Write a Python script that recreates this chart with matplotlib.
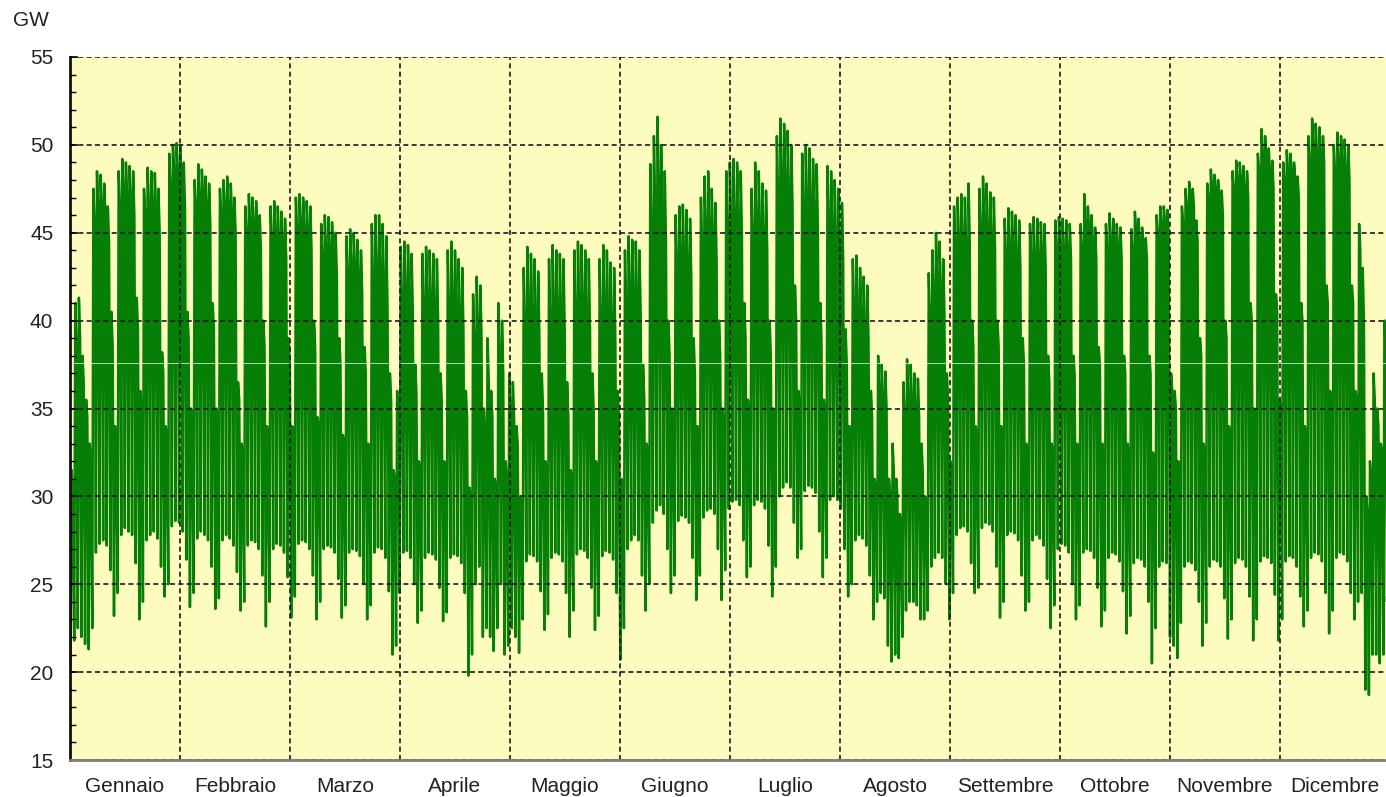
import numpy as np
import matplotlib.pyplot as plt
from matplotlib.ticker import MultipleLocator, FixedLocator, NullFormatter

plt.rcParams['font.family'] = ['Liberation Sans', 'DejaVu Sans']

mesi = ['Gennaio', 'Febbraio', 'Marzo', 'Aprile', 'Maggio', 'Giugno',
        'Luglio', 'Agosto', 'Settembre', 'Ottobre', 'Novembre', 'Dicembre']

# carico massimo giornaliero (GW), una riga per settimana lun..dom
picco = [
    31.5, 41.0, 41.3, 38.0, 35.5, 33.0,
    47.5, 48.5, 48.3, 47.8, 46.5, 40.5, 34.0,
    48.5, 49.2, 49.0, 48.8, 48.5, 41.3, 36.0,
    47.5, 48.7, 48.5, 48.4, 47.5, 38.2, 34.0,
    49.5, 50.0, 50.1, 50.0, 49.0, 40.5, 35.0,
    48.0, 48.9, 48.6, 48.2, 47.8, 41.0, 35.0,
    47.5, 48.0, 48.2, 47.8, 47.0, 36.5, 33.0,
    46.5, 47.2, 47.0, 46.8, 46.0, 40.0, 34.0,
    46.5, 46.8, 46.5, 46.2, 45.8, 39.0, 34.0,
    47.0, 47.2, 47.0, 46.8, 46.5, 40.0, 34.5,
    45.5, 46.0, 45.9, 45.6, 45.0, 39.0, 33.5,
    44.8, 45.2, 45.0, 44.6, 44.0, 38.5, 33.0,
    45.5, 46.0, 46.0, 45.5, 44.8, 37.0, 31.5,
    36.0, 44.2, 44.5, 44.3, 43.8, 37.5, 32.0,
    43.8, 44.2, 44.0, 43.8, 43.5, 37.0, 32.0,
    44.0, 44.5, 44.0, 43.5, 43.0, 36.0, 30.5,
    41.5, 42.5, 42.0, 35.0, 39.0, 36.0, 31.0,
    41.0, 40.0, 32.0, 37.0, 36.5, 34.0, 30.0,
    43.0, 44.2, 43.8, 43.5, 42.8, 37.0, 32.0,
    43.5, 44.3, 44.0, 43.8, 43.5, 36.5, 31.5,
    44.0, 44.5, 44.3, 44.0, 43.5, 37.0, 32.0,
    43.5, 44.3, 44.0, 43.3, 43.0, 36.0, 31.0,
    44.0, 44.8, 44.6, 44.5, 44.0, 37.5, 33.0,
    48.9, 50.5, 51.6, 50.0, 48.5, 40.0, 35.0,
    46.0, 46.5, 46.6, 46.3, 45.8, 39.0, 34.0,
    47.0, 48.2, 48.5, 47.5, 46.7, 40.0, 35.0,
    48.5, 49.0, 49.2, 49.0, 48.5, 41.0, 35.5,
    47.5, 49.0, 48.5, 47.8, 47.4, 40.0, 35.0,
    50.5, 51.5, 51.2, 50.8, 50.0, 42.0, 36.0,
    49.5, 50.0, 49.8, 49.2, 48.9, 41.0, 35.5,
    48.8, 48.5, 48.0, 47.5, 46.7, 39.5, 34.0,
    43.5, 43.7, 43.0, 42.5, 42.0, 36.0, 31.0,
    38.0, 37.5, 37.1, 31.0, 33.0, 31.0, 29.0,
    36.5, 37.8, 37.5, 37.0, 36.7, 33.0, 30.0,
    42.7, 44.0, 45.0, 44.5, 43.5, 37.0, 32.0,
    46.5, 47.0, 47.2, 47.0, 47.8, 40.0, 34.0,
    47.5, 48.2, 47.8, 47.3, 47.0, 40.0, 34.0,
    45.8, 46.4, 46.2, 46.0, 45.7, 39.0, 33.0,
    45.5, 45.9, 45.8, 45.6, 45.5, 38.0, 33.0,
    45.7, 45.9, 45.8, 45.7, 45.5, 38.0, 33.0,
    45.5, 47.2, 46.5, 46.0, 45.3, 38.5, 33.0,
    45.5, 46.1, 45.8, 45.5, 45.3, 38.0, 33.0,
    45.2, 46.2, 45.8, 45.3, 44.7, 38.0, 32.5,
    46.0, 46.5, 46.5, 46.3, 37.0, 36.0, 32.0,
    46.5, 47.5, 47.9, 47.5, 45.7, 39.0, 33.0,
    47.8, 48.6, 48.3, 48.0, 47.4, 40.0, 34.0,
    48.5, 49.1, 49.0, 48.8, 48.5, 41.0, 35.0,
    49.5, 50.9, 50.5, 49.8, 49.1, 41.5, 35.5,
    49.0, 49.7, 49.5, 49.0, 48.2, 41.0, 34.0,
    50.5, 51.5, 51.2, 51.0, 50.5, 42.0, 36.0,
    50.0, 50.7, 50.5, 50.3, 50.0, 42.0, 36.0,
    45.5, 43.0, 30.0, 32.0, 37.0, 35.0, 33.0,
    40.0, 43.0,
]

# carico serale (GW)
sera = [
    30.0, 38.5, 39.0, 36.5, 34.5, 32.0,
    45.5, 46.5, 46.5, 46.0, 44.5, 38.5, 33.5,
    46.5, 47.5, 47.0, 47.0, 46.0, 39.5, 35.0,
    46.0, 46.5, 46.5, 46.0, 45.0, 37.0, 33.5,
    47.5, 48.5, 48.5, 48.0, 46.5, 39.0, 34.5,
    46.5, 47.0, 47.0, 46.5, 45.5, 39.5, 34.5,
    46.0, 46.5, 46.5, 46.0, 45.0, 35.5, 32.5,
    45.0, 45.5, 45.5, 45.0, 44.0, 38.5, 33.5,
    44.5, 45.0, 44.5, 44.5, 43.5, 37.5, 33.5,
    45.0, 45.5, 45.0, 45.0, 44.0, 38.5, 34.0,
    43.5, 44.0, 44.0, 43.5, 42.5, 37.5, 33.0,
    42.5, 43.0, 43.0, 42.5, 41.5, 37.0, 32.5,
    42.0, 42.5, 42.5, 42.0, 41.0, 35.5, 31.0,
    34.5, 41.0, 41.5, 41.0, 40.5, 36.0, 31.5,
    40.5, 41.0, 41.0, 40.5, 40.0, 35.5, 31.5,
    40.5, 41.0, 40.5, 40.0, 39.5, 34.5, 30.0,
    38.5, 39.5, 39.0, 33.5, 36.5, 34.5, 30.5,
    38.0, 37.0, 31.0, 35.0, 34.5, 33.0, 29.5,
    39.5, 40.5, 40.0, 40.0, 39.0, 35.0, 31.5,
    39.5, 40.5, 40.0, 40.0, 39.5, 34.5, 31.0,
    40.0, 40.5, 40.5, 40.0, 39.5, 35.0, 31.5,
    39.5, 40.5, 40.0, 39.5, 39.0, 34.5, 30.5,
    40.5, 41.5, 41.0, 41.0, 40.5, 35.5, 32.5,
    45.0, 46.5, 47.5, 46.0, 44.5, 38.0, 34.0,
    43.0, 43.5, 43.5, 43.0, 42.5, 37.0, 33.5,
    44.0, 45.0, 45.0, 44.5, 43.5, 38.0, 34.0,
    45.0, 45.5, 45.5, 45.5, 45.0, 39.0, 34.5,
    44.5, 45.5, 45.0, 44.5, 44.0, 38.0, 34.0,
    47.0, 48.0, 47.5, 47.0, 46.5, 40.0, 35.0,
    46.0, 46.5, 46.5, 46.0, 45.5, 39.0, 34.5,
    45.5, 45.0, 44.5, 44.0, 43.5, 37.5, 33.0,
    40.5, 40.5, 40.0, 39.5, 39.0, 34.5, 30.5,
    36.0, 35.5, 35.0, 30.0, 31.5, 30.0, 28.5,
    34.5, 35.5, 35.5, 35.0, 34.5, 31.5, 29.5,
    40.0, 41.5, 42.0, 41.5, 40.5, 35.5, 31.5,
    44.0, 44.5, 44.5, 44.0, 44.5, 38.5, 33.5,
    45.0, 45.5, 45.0, 44.5, 44.0, 38.5, 33.5,
    43.5, 44.0, 44.0, 43.5, 43.0, 37.5, 32.5,
    43.5, 43.5, 43.5, 43.5, 43.0, 36.5, 32.5,
    44.0, 44.0, 44.0, 44.0, 43.5, 37.0, 32.5,
    44.0, 45.5, 45.0, 44.5, 43.5, 37.5, 32.5,
    44.0, 44.5, 44.5, 44.0, 43.5, 37.0, 32.5,
    44.0, 45.0, 44.5, 44.0, 43.5, 37.0, 32.0,
    45.0, 45.5, 45.5, 45.0, 36.0, 35.0, 31.5,
    45.5, 46.5, 47.0, 46.5, 44.5, 38.0, 32.5,
    47.0, 47.5, 47.5, 47.0, 46.0, 39.0, 33.5,
    47.5, 48.0, 48.0, 47.5, 47.0, 40.0, 34.5,
    48.5, 49.5, 49.0, 48.5, 47.5, 40.5, 35.0,
    48.0, 48.5, 48.5, 48.0, 47.0, 40.0, 33.5,
    49.0, 50.0, 49.5, 49.5, 49.0, 41.0, 35.5,
    48.5, 49.0, 49.0, 48.5, 48.0, 41.0, 35.5,
    44.0, 40.0, 29.0, 31.0, 35.5, 34.0, 32.5,
    38.5, 41.0,
]

# carico minimo notturno (GW)
minimo = [
    20.3, 21.8, 22.5, 22.0, 21.6, 21.3,
    22.5, 26.8, 27.3, 27.5, 27.2, 25.8, 23.2,
    24.5, 27.8, 28.2, 28.0, 27.8, 26.2, 23.0,
    24.0, 27.5, 27.8, 28.0, 27.6, 26.0, 24.3,
    25.0, 28.3, 28.6, 28.5, 28.0, 26.4, 23.7,
    24.5, 27.6, 28.0, 27.8, 27.5, 26.0, 23.6,
    24.2, 27.5, 27.8, 27.6, 27.2, 25.7, 23.5,
    24.0, 27.2, 27.5, 27.4, 27.0, 25.5, 22.6,
    24.0, 27.0, 27.3, 27.2, 26.8, 25.4, 23.1,
    24.3, 27.3, 27.5, 27.4, 27.0, 25.5, 23.0,
    24.0, 27.0, 27.2, 27.1, 26.8, 25.3, 23.1,
    23.8, 26.8, 27.0, 26.9, 26.6, 25.0, 23.0,
    23.8, 26.8, 27.1, 27.0, 26.5, 24.6, 21.0,
    21.5, 24.5, 26.8, 26.9, 26.5, 25.0, 22.8,
    23.5, 26.5, 26.8, 26.7, 26.4, 24.8, 22.9,
    23.4, 26.5, 26.7, 26.6, 26.2, 24.5, 19.8,
    21.0, 25.0, 26.0, 22.0, 22.5, 22.0, 21.2,
    22.5, 25.0, 21.0, 21.5, 22.5, 22.0, 21.1,
    23.0, 26.3, 26.7, 26.6, 26.3, 24.6, 22.4,
    23.3, 26.5, 26.8, 26.7, 26.3, 24.5, 22.0,
    23.5, 26.7, 27.0, 26.9, 26.5, 24.8, 22.4,
    23.2, 26.6, 26.9, 26.8, 26.4, 24.5, 20.7,
    22.5, 27.0, 27.5, 27.8, 27.5, 25.5, 23.5,
    25.0, 28.5, 29.2, 29.5, 29.0, 27.0, 24.5,
    25.5, 28.6, 28.9, 28.8, 28.5, 26.5, 24.1,
    25.5, 28.8, 29.2, 29.3, 29.0, 27.0, 24.1,
    25.8, 29.3, 29.7, 29.8, 29.5, 27.5, 25.4,
    26.0, 29.5, 29.8, 29.7, 29.3, 27.2, 24.3,
    26.0, 30.0, 30.5, 30.8, 30.5, 28.5, 26.5,
    27.0, 30.3, 30.6, 30.5, 30.2, 28.0, 25.4,
    26.5, 29.8, 30.0, 29.8, 29.3, 27.0, 24.3,
    25.0, 27.5, 27.8, 27.6, 27.2, 25.5, 23.0,
    24.0, 24.5, 24.2, 21.5, 20.6, 21.0, 20.8,
    22.0, 23.5, 24.0, 24.0, 23.8, 23.0, 23.0,
    23.5, 26.0, 26.5, 26.8, 26.5, 25.0, 23.0,
    24.5, 27.8, 28.2, 28.3, 28.0, 26.2, 24.5,
    24.8, 28.2, 28.5, 28.4, 28.0, 26.0, 23.1,
    24.0, 27.8, 28.0, 27.9, 27.5, 25.5, 23.5,
    24.0, 27.5, 27.8, 27.6, 27.2, 25.3, 22.5,
    23.8, 27.0, 27.3, 27.2, 26.8, 25.0, 23.0,
    23.8, 26.8, 27.0, 26.9, 26.5, 24.8, 22.6,
    23.5, 26.5, 26.8, 26.7, 26.3, 24.6, 22.2,
    23.2, 26.2, 26.5, 26.4, 26.0, 24.0, 20.5,
    22.5, 26.0, 26.3, 26.2, 22.0, 21.5, 20.8,
    22.8, 26.0, 26.3, 26.2, 25.8, 24.0, 21.5,
    22.8, 26.0, 26.4, 26.3, 26.0, 24.2, 21.9,
    23.0, 26.2, 26.5, 26.4, 26.0, 24.3, 21.8,
    23.0, 26.3, 26.6, 26.5, 26.2, 24.4, 21.8,
    23.0, 26.3, 26.6, 26.5, 26.0, 24.3, 22.6,
    23.5, 26.5, 26.8, 26.7, 26.3, 24.5, 22.2,
    23.5, 26.5, 26.8, 26.7, 26.3, 24.5, 23.0,
    24.0, 24.5, 19.0, 18.7, 21.0, 21.0, 20.5,
    21.0, 24.0,
]

giorni = np.arange(len(picco))
# ore del giorno: minimo notturno, picco di mattina, sera
ore = np.array([4, 11, 19]) / 24
t = (giorni[:, None] + ore[None, :]).ravel()
carico = np.column_stack([minimo, picco, sera]).ravel()

fig = plt.figure(figsize=(13.86, 7.97), dpi=100)
ax = fig.add_axes([70 / 1386, 37 / 797, 1320 / 1386, 703 / 797])
ax.set_facecolor('#FEFBBF')

ax.plot(t, carico, color='#067F06', lw=1.8, zorder=2)
ax.axhline(37.6, color='white', lw=0.6, alpha=0.8, zorder=2.2)

ax.set_xlim(0, 365)
ax.set_ylim(15, 55)

# mesi di uguale larghezza
passo = 365 / 12
ax.xaxis.set_major_locator(FixedLocator([passo * k for k in range(1, 12)]))
ax.xaxis.set_major_formatter(NullFormatter())
ax.xaxis.set_minor_locator(FixedLocator([passo * (k + 0.5) for k in range(12)]))
ax.set_xticklabels(mesi, minor=True)
ax.tick_params(axis='x', which='both', length=0, pad=12, labelsize=15, labelcolor='#222222')

ax.yaxis.set_major_locator(MultipleLocator(5))
ax.yaxis.set_minor_locator(MultipleLocator(1))
ax.tick_params(axis='y', which='major', direction='in', length=6, width=1.2, pad=12,
               labelsize=15, labelcolor='#222222')
ax.tick_params(axis='y', which='minor', direction='in', length=4, width=1.0)

# griglia tratteggiata sopra la curva
ax.set_axisbelow(False)
ax.grid(True, which='major', color='#1a1a1a', linestyle=(0, (3, 2)), lw=1.2)

ax.spines['left'].set_linewidth(2)
ax.spines['left'].set_color('#111111')
ax.spines['bottom'].set_linewidth(2)
ax.spines['bottom'].set_color('#808080')
ax.spines['bottom'].set_zorder(5)
ax.spines['top'].set_visible(False)
ax.spines['right'].set_visible(False)

fig.text(13 / 1386, 1 - 21 / 797, 'GW', fontsize=15, color='#222222', va='center', ha='left')

fig.savefig('out.png', dpi=100)
